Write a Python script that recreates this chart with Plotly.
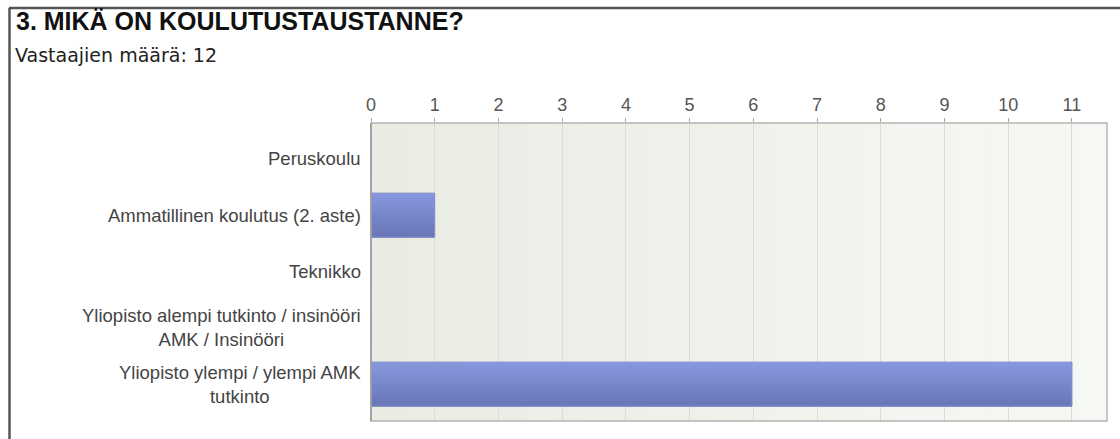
import plotly.graph_objects as go

categories = [
    "Peruskoulu",
    "Ammatillinen koulutus (2. aste)",
    "Teknikko",
    "Yliopisto alempi tutkinto / insinööri<br>AMK / Insinööri",
    "Yliopisto ylempi / ylempi AMK<br>tutkinto",
]
values = [0, 1, 0, 0, 11]
tick_vals = list(range(0, 12))
title_text = "3. MIKÄ ON KOULUTUSTAUSTANNE?"
subtitle_text = "Vastaajien määrä: 12"

W, H = 1120, 439
L, R, T, B = 371, 13, 123, 18
PW, PH = W - L - R, H - T - B


def px_x(p):
    return (p - L) / PW


def px_y(p):
    return (H - B - p) / PH


idx = list(range(len(categories)))

fig = go.Figure()
# bars drawn as horizontal strips to imitate the vertical gradient
BW = 0.78
ns = 10
top_c = (134, 150, 222)
bot_c = (106, 119, 184)
for k in range(ns):
    t = k / (ns - 1)
    col = tuple(round(top_c[j] + (bot_c[j] - top_c[j]) * t) for j in range(3))
    fig.add_trace(go.Bar(
        x=values, y=idx, orientation="h",
        width=BW / ns * 1.15, offset=-BW / 2 + k * BW / ns,
        marker=dict(color="rgb(%d,%d,%d)" % col, line=dict(width=0)),
        hoverinfo="skip",
    ))
fig.add_trace(go.Bar(
    x=values, y=idx, orientation="h", width=BW, offset=-BW / 2,
    marker=dict(color="rgba(0,0,0,0)", line=dict(color="#7f8cc8", width=1)),
    hoverinfo="skip",
))

shapes = []
n = 24
c0 = (232, 236, 227)
c1 = (246, 248, 244)
for i in range(n):
    t = i / (n - 1)
    col = tuple(round(c0[k] + (c1[k] - c0[k]) * t) for k in range(3))
    shapes.append(dict(type="rect", xref="x domain", yref="y domain",
                       x0=i / n, x1=(i + 1) / n, y0=0, y1=1,
                       fillcolor="rgb(%d,%d,%d)" % col, line=dict(width=0), layer="below"))
shapes.append(dict(type="rect", xref="x domain", yref="y domain", x0=0, x1=1, y0=0, y1=1,
                   line=dict(color="#b4b4b4", width=1.5), fillcolor="rgba(0,0,0,0)", layer="above"))
shapes.append(dict(type="line", xref="x domain", yref="y domain", x0=0, x1=0, y0=0, y1=1,
                   line=dict(color="#999999", width=1.5), layer="above"))
shapes.append(dict(type="line", xref="paper", yref="paper", x0=px_x(9), x1=px_x(1125),
                   y0=px_y(8), y1=px_y(8), line=dict(color="#555555", width=2.5)))
shapes.append(dict(type="line", xref="paper", yref="paper", x0=px_x(9.5), x1=px_x(9.5),
                   y0=px_y(8), y1=px_y(445), line=dict(color="#555555", width=2.5)))

annotations = [
    dict(text="<b>%s</b>" % title_text, xref="paper", yref="paper", x=px_x(14), y=px_y(21),
         xanchor="left", yanchor="middle", showarrow=False,
         font=dict(family="Liberation Sans", size=25, color="#111111")),
    dict(text=subtitle_text, xref="paper", yref="paper", x=px_x(13), y=px_y(55),
         xanchor="left", yanchor="middle", showarrow=False,
         font=dict(family="DejaVu Sans", size=19, color="#222222")),
]
for i, c in enumerate(categories):
    annotations.append(dict(text=c, xref="paper", yref="y", x=px_x(363), y=i,
                            xanchor="right", yanchor="middle", align="center", showarrow=False,
                            font=dict(family="Liberation Sans", size=18.5, color="#444444")))

fig.update_layout(
    width=W, height=H,
    margin=dict(l=L, r=R, t=T, b=B),
    paper_bgcolor="white", plot_bgcolor="#eef1ea",
    showlegend=False, barmode="overlay",
    shapes=shapes, annotations=annotations,
    xaxis=dict(side="top", range=[0, 11.55], tickvals=tick_vals, showgrid=True,
               gridcolor="#d9ddd5", gridwidth=1, zeroline=False,
               ticks="outside", ticklen=4, tickcolor="#aaaaaa",
               tickfont=dict(family="Liberation Sans", size=18, color="#555555")),
    yaxis=dict(range=[4.655, -0.635], showticklabels=False, showgrid=False,
               zeroline=False, ticks=""),
)

fig.write_html("out.html")
